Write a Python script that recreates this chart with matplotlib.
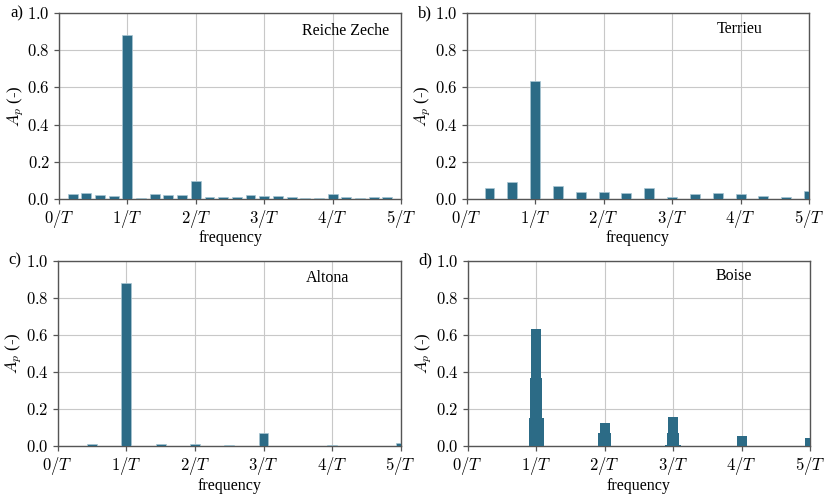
import matplotlib
matplotlib.use("Agg")
import matplotlib.pyplot as plt
import numpy as np

plt.rcParams['mathtext.fontset'] = 'cm'
plt.rcParams['font.family'] = ['Liberation Serif', 'DejaVu Serif']

# ---------------- data (frequency in units of 1/T, amplitude A_p) ----------------
freq_a = [0.2, 0.4, 0.6, 0.8, 1.0, 1.2, 1.4, 1.6, 1.8, 2.0, 2.2, 2.4,
          2.6, 2.8, 3.0, 3.2, 3.4, 3.6, 3.8, 4.0, 4.2, 4.4, 4.6, 4.8]
amp_a = [0.027, 0.029, 0.020, 0.013, 0.883, 0.004, 0.023, 0.022, 0.020, 0.097,
         0.009, 0.008, 0.010, 0.018, 0.015, 0.013, 0.008, 0.004, 0.004, 0.025,
         0.007, 0.005, 0.008, 0.007]

freq_b = [1/3, 2/3, 1.0, 4/3, 5/3, 2.0, 7/3, 8/3, 3.0, 10/3, 11/3, 4.0, 13/3, 14/3, 5.0]
amp_b = [0.056, 0.092, 0.633, 0.070, 0.036, 0.038, 0.031, 0.059, 0.007, 0.023,
         0.029, 0.025, 0.014, 0.007, 0.043]

freq_c = [0.5, 1.0, 1.5, 2.0, 2.5, 3.0, 3.5, 4.0, 4.5, 5.0]
amp_c = [0.014, 0.881, 0.014, 0.011, 0.007, 0.070, 0.004, 0.005, 0.002, 0.020]

freq_d = [0.20, 0.30, 0.40, 0.50, 0.62, 0.70, 0.965, 0.98, 1.00, 1.02, 1.035, 1.15,
          1.25, 1.97, 2.00, 2.02, 2.95, 2.98, 3.00, 3.02, 3.05, 4.00, 5.00]
amp_d = [0.004, 0.004, 0.003, 0.003, 0.004, 0.003, 0.15, 0.37, 0.63, 0.37, 0.15, 0.003,
         0.002, 0.07, 0.125, 0.07, 0.005, 0.07, 0.16, 0.07, 0.005, 0.055, 0.045]

panel_letters = ['a)', 'b)', 'c)', 'd)']
site_names = ['Reiche Zeche', 'Terrieu', 'Altona', 'Boise']
xtick_labels = ['$0/T$', '$1/T$', '$2/T$', '$3/T$', '$4/T$', '$5/T$']
ytick_labels = ['$0.0$', '$0.2$', '$0.4$', '$0.6$', '$0.8$', '$1.0$']

freqs = [freq_a, freq_b, freq_c, freq_d]
amps = [amp_a, amp_b, amp_c, amp_d]

bar_color = '#2c6b86'
W, H = 824, 494
fig = plt.figure(figsize=(W / 100, H / 100), dpi=100)

# axes rectangles in pixels: left, right, top, bottom
rects = [(59, 401, 13.3, 198.7), (466.7, 809, 13.3, 198.7),
         (57.7, 400.7, 260.7, 446.3), (467.7, 810, 260.7, 446.3)]
name_x = [0.71, 0.73, 0.724, 0.725]
name_y = [0.905, 0.915, 0.905, 0.915]

for i in range(4):
    l, r, t, b = rects[i]
    ax = fig.add_axes([l / W, (H - b) / H, (r - l) / W, (b - t) / H])
    edge = '#a9c6d2' if i < 3 else 'none'
    ax.bar(freqs[i], amps[i], width=0.145, color=bar_color, edgecolor=edge,
           linewidth=0.5, zorder=3)
    ax.set_xlim(0, 5)
    ax.set_ylim(0, 1.0)
    ax.set_xticks(range(6))
    ax.set_xticklabels(xtick_labels, fontsize=12)
    ax.set_yticks(np.linspace(0, 1, 6))
    ax.set_yticklabels(ytick_labels, fontsize=12)
    ax.grid(True, color='#c8c8c8', linewidth=0.8, zorder=0)
    ax.set_axisbelow(True)
    for s in ax.spines.values():
        s.set_color('#555555')
        s.set_linewidth(1.0)
    ax.tick_params(axis='both', color='#555555', length=3.5, width=0.9, pad=3)
    ax.set_xlabel('frequency', fontsize=11.5, labelpad=0.5)
    ax.set_ylabel('$A_p$ (-)', fontsize=12, labelpad=1)
    ax.text(name_x[i], name_y[i], site_names[i], transform=ax.transAxes,
            fontsize=11.5, ha='left', va='center')
    ax.text(-0.143, 1.0, panel_letters[i], transform=ax.transAxes,
            fontsize=12, ha='left', va='center')

fig.savefig('out.png', dpi=100)
